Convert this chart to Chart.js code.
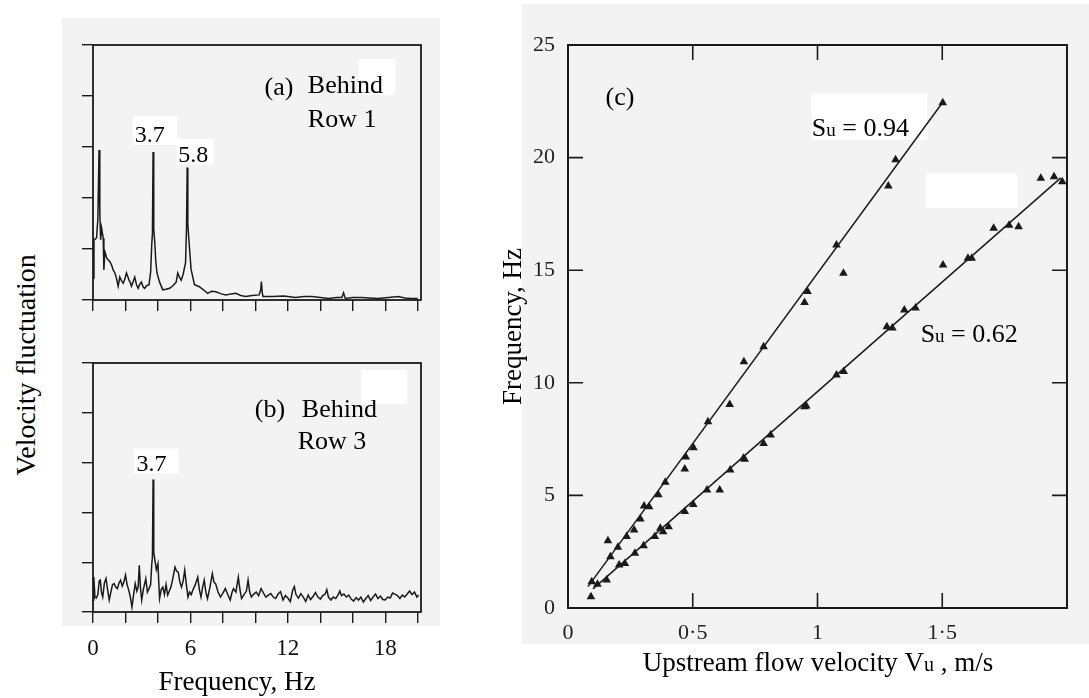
<!DOCTYPE html>
<html>
<head>
<meta charset="utf-8">
<script src="https://cdn.jsdelivr.net/npm/chart.js@4.4.1/dist/chart.umd.min.js"></script>
<style>
  body { margin: 0; background: #fff; width: 1089px; height: 698px; position: relative; overflow: hidden; font-family: "Liberation Serif", "Times New Roman", serif; }
  .scan { position: absolute; background: #f3f3f3; }
  canvas { position: absolute; }
  #velLabel { position: absolute; left: 26px; top: 365px; transform: translate(-50%, -50%) rotate(-90deg); font-size: 28px; white-space: nowrap; color: #000; }
</style>
</head>
<body>
<div class="scan" style="left:62px;top:18px;width:378px;height:608px"></div>
<div class="scan" style="left:522px;top:4px;width:567px;height:640px"></div>
<div id="velLabel">Velocity fluctuation</div>
<canvas id="rowOne" width="450" height="330" style="left:0;top:0"></canvas>
<canvas id="rowThree" width="450" height="368" style="left:0;top:330px"></canvas>
<canvas id="strouhal" width="609" height="698" style="left:480px;top:0"></canvas>
<script>
// ---- spectrum behind row 1 (Hz, relative amplitude) ----
const freqRow1 = [0, 0.06, 0.22, 0.3, 0.37, 0.42, 0.47, 0.53, 0.63, 0.67, 0.73, 0.85, 1.04, 1.15, 1.24, 1.35, 1.45, 1.55, 1.65, 1.75,
  1.86, 1.96, 2.06, 2.14, 2.22, 2.3, 2.37, 2.47, 2.57, 2.68, 2.78, 2.88, 2.98, 3.08, 3.18, 3.3, 3.45, 3.55, 3.62, 3.66,
  3.7, 3.74, 3.8, 3.87, 3.94, 4.1, 4.3, 4.5, 4.72, 4.92, 5.12, 5.22, 5.32, 5.43, 5.55, 5.7, 5.76, 5.8, 5.84, 5.9,
  6.04, 6.25, 6.55, 6.8, 7.06, 7.3, 7.57, 7.9, 8.19, 8.5, 8.8, 9.1, 9.41, 9.8, 10.23, 10.33, 10.37, 10.42, 10.47, 11.04,
  11.76, 12.47, 13.0, 13.49, 14.0, 14.51, 15.0, 15.33, 15.43, 15.54, 16.0, 16.55, 17.0, 17.57, 18.2, 18.8, 19.2, 19.6, 20.0];
const ampRow1 = [0.43, 1.18, 1.22, 1.6, 2.94, 1.7, 1.18, 1.41, 1.21, 0.59, 0.95, 0.82, 0.75, 0.68, 0.59, 0.53, 0.42, 0.27, 0.45, 0.38,
  0.33, 0.41, 0.53, 0.46, 0.39, 0.34, 0.27, 0.36, 0.45, 0.3, 0.23, 0.31, 0.35, 0.26, 0.23, 0.28, 0.3, 0.55, 1.1, 1.3,
  2.9, 1.4, 1.15, 0.75, 0.53, 0.35, 0.2, 0.21, 0.23, 0.28, 0.35, 0.53, 0.45, 0.39, 0.5, 0.73, 1.43, 2.6, 1.5, 1.2,
  0.6, 0.3, 0.26, 0.2, 0.13, 0.17, 0.16, 0.12, 0.1, 0.12, 0.13, 0.09, 0.07, 0.09, 0.1, 0.2, 0.36, 0.15, 0.07, 0.07,
  0.08, 0.05, 0.07, 0.07, 0.05, 0.03, 0.05, 0.05, 0.14, 0.03, 0.05, 0.05, 0.04, 0.03, 0.05, 0.07, 0.04, 0.03, 0.03];

// ---- spectrum behind row 3 ----
const freqRow3 = [0, 0.05, 0.12, 0.2, 0.3, 0.38, 0.45, 0.52, 0.6, 0.7, 0.8, 0.9, 1.0, 1.1, 1.2, 1.3, 1.4, 1.5, 1.6, 1.7,
  1.8, 1.9, 2.0, 2.1, 2.2, 2.3, 2.4, 2.5, 2.6, 2.7, 2.78, 2.85, 2.92, 3.0, 3.1, 3.25, 3.35, 3.45, 3.55, 3.62,
  3.66, 3.7, 3.74, 3.8, 3.9, 4.0, 4.05, 4.1, 4.2, 4.3, 4.4, 4.5, 4.6, 4.7, 4.8, 4.9, 5.05, 5.15, 5.25, 5.35,
  5.45, 5.55, 5.65, 5.75, 5.85, 5.95, 6.05, 6.15, 6.3, 6.45, 6.55, 6.65, 6.75, 6.85, 6.95, 7.05, 7.2, 7.35, 7.45, 7.55,
  7.7, 7.85, 8.0, 8.15, 8.3, 8.45, 8.55, 8.65, 8.8, 8.95, 9.05, 9.15, 9.3, 9.45, 9.55, 9.65, 9.75, 9.9, 10.05, 10.2,
  10.35, 10.5, 10.65, 10.8, 10.95, 11.1, 11.25, 11.4, 11.55, 11.7, 11.85, 12.0, 12.15, 12.3, 12.4, 12.5, 12.65, 12.8, 12.95, 13.1,
  13.25, 13.4, 13.55, 13.7, 13.85, 14.0, 14.15, 14.3, 14.4, 14.5, 14.65, 14.8, 14.95, 15.1, 15.2, 15.3, 15.45, 15.6, 15.75, 15.9,
  16.05, 16.2, 16.35, 16.5, 16.65, 16.8, 16.95, 17.1, 17.25, 17.4, 17.55, 17.7, 17.85, 18.0, 18.15, 18.3, 18.45, 18.6, 18.75, 18.9,
  19.05, 19.2, 19.35, 19.5, 19.65, 19.8, 19.95, 20.05];
const ampRow3 = [0.24, 0.7, 0.3, 0.28, 0.35, 0.62, 0.64, 0.4, 0.3, 0.58, 0.67, 0.45, 0.24, 0.4, 0.55, 0.57, 0.5, 0.47, 0.58, 0.64,
  0.52, 0.6, 0.74, 0.55, 0.44, 0.3, 0.1, 0.35, 0.57, 0.42, 0.5, 0.94, 0.5, 0.24, 0.45, 0.67, 0.4, 0.47, 0.55, 0.97,
  1.1, 2.66, 1.2, 1.07, 0.85, 0.97, 0.6, 0.27, 0.45, 0.5, 0.35, 0.55, 0.34, 0.42, 0.5, 0.65, 0.9, 0.82, 0.8, 0.6,
  0.5, 0.62, 0.84, 0.55, 0.3, 0.4, 0.35, 0.44, 0.55, 0.7, 0.45, 0.3, 0.5, 0.64, 0.4, 0.27, 0.5, 0.77, 0.6, 0.57,
  0.4, 0.3, 0.38, 0.47, 0.35, 0.24, 0.38, 0.47, 0.4, 0.7, 0.45, 0.27, 0.35, 0.42, 0.64, 0.4, 0.3, 0.36, 0.4, 0.33,
  0.47, 0.38, 0.3, 0.34, 0.37, 0.3, 0.27, 0.36, 0.41, 0.24, 0.33, 0.28, 0.21, 0.44, 0.51, 0.35, 0.28, 0.37, 0.3, 0.21,
  0.34, 0.25, 0.31, 0.39, 0.3, 0.26, 0.33, 0.36, 0.45, 0.3, 0.24, 0.3, 0.27, 0.35, 0.42, 0.33, 0.36, 0.3, 0.34, 0.26,
  0.22, 0.29, 0.24, 0.3, 0.2, 0.27, 0.33, 0.23, 0.3, 0.36, 0.27, 0.32, 0.25, 0.24, 0.3, 0.28, 0.38, 0.36, 0.33, 0.27,
  0.34, 0.3, 0.36, 0.42, 0.35, 0.4, 0.3, 0.34];

// ---- shedding frequency vs upstream velocity (m/s, Hz) ----
const velHigh = [0.095, 0.16, 0.17, 0.2, 0.235, 0.265, 0.29, 0.305, 0.325, 0.362, 0.39, 0.468, 0.472, 0.503, 0.561, 0.648,
  0.705, 0.784, 0.948, 0.96, 1.076, 1.104, 1.284, 1.313, 1.502];
const freqHigh = [1.17, 2.99, 2.28, 2.7, 3.17, 3.46, 3.95, 4.53, 4.5, 5.03, 5.58, 6.17, 6.7, 7.12, 8.27, 9.04,
  10.94, 11.6, 13.57, 14.05, 16.12, 14.86, 18.74, 19.9, 22.44];
const velLow = [0.092, 0.118, 0.155, 0.205, 0.228, 0.268, 0.303, 0.348, 0.37, 0.381, 0.403, 0.468, 0.502, 0.557, 0.608, 0.65,
  0.703, 0.708, 0.784, 0.812, 0.948, 0.955, 1.076, 1.105, 1.278, 1.3, 1.348, 1.393, 1.503, 1.603, 1.618, 1.706,
  1.768, 1.806, 1.895, 1.948, 1.981];
const freqLow = [0.5, 1.05, 1.24, 1.91, 1.98, 2.43, 2.76, 3.17, 3.54, 3.39, 3.61, 4.28, 4.6, 5.24, 5.24, 6.13,
  6.65, 6.6, 7.31, 7.68, 8.94, 8.97, 10.35, 10.5, 12.49, 12.43, 13.23, 13.32, 15.23, 15.53, 15.53, 16.86,
  17.0, 16.93, 19.08, 19.15, 18.93];
// straight fits through each group
const fitHighV = [0.08, 1.505];
const fitHighF = [0.95, 22.5];
const fitLowV = [0.1, 1.975];
const fitLowF = [0.85, 19.1];

const velTicks = { 0: '0', 0.5: '0·5', 1: '1', 1.5: '1·5' };

const INK = '#1a1a1a';
const SERIF = '"Liberation Serif", "Times New Roman", serif';

Chart.defaults.font.family = SERIF;
Chart.defaults.color = '#222';

const pairs = (xs, ys) => xs.map((x, i) => ({ x: x, y: ys[i] }));

// box around the plot area
const frame = (width) => ({
  id: 'frame',
  afterDatasetsDraw(chart) {
    const { ctx, chartArea: a } = chart;
    ctx.save();
    ctx.strokeStyle = INK;
    ctx.lineWidth = width;
    ctx.strokeRect(a.left, a.top, a.right - a.left, a.bottom - a.top);
    ctx.restore();
  }
});

// tick marks pointing into the plot, on all four sides
const inwardTicks = (len) => ({
  id: 'inwardTicks',
  afterDraw(chart) {
    const { ctx, chartArea: a, scales: { x, y } } = chart;
    ctx.save();
    ctx.strokeStyle = INK;
    ctx.lineWidth = 1.6;
    ctx.beginPath();
    x.ticks.forEach(t => {
      if (t.value <= x.min || t.value >= x.max) return;
      const px = x.getPixelForValue(t.value);
      ctx.moveTo(px, a.bottom); ctx.lineTo(px, a.bottom - len);
      ctx.moveTo(px, a.top); ctx.lineTo(px, a.top + len);
    });
    y.ticks.forEach(t => {
      if (t.value <= y.min || t.value >= y.max) return;
      const py = y.getPixelForValue(t.value);
      ctx.moveTo(a.left, py); ctx.lineTo(a.left + len, py);
      ctx.moveTo(a.right, py); ctx.lineTo(a.right - len, py);
    });
    ctx.stroke();
    ctx.restore();
  }
});

function drawRich(ctx, parts, x, y, align) {
  const widths = parts.map(p => { ctx.font = p[1] + 'px ' + SERIF; return ctx.measureText(p[0]).width; });
  const total = widths.reduce((s, w) => s + w, 0);
  let cx = align === 'left' ? x : x - total / 2;
  const base = y + parts[0][1] * 0.33;
  ctx.textAlign = 'left';
  ctx.textBaseline = 'alphabetic';
  parts.forEach((p, i) => {
    ctx.font = p[1] + 'px ' + SERIF;
    ctx.fillText(p[0], cx, base);
    cx += widths[i];
  });
}

// white patches and labels; positions in data units unless px is set
const notes = (boxes, texts) => ({
  id: 'notes',
  beforeDatasetsDraw(chart) {
    const { ctx, scales: { x, y } } = chart;
    ctx.save();
    ctx.fillStyle = '#ffffff';
    boxes.forEach(b => {
      const x0 = x.getPixelForValue(b[0]), x1 = x.getPixelForValue(b[1]);
      const y0 = y.getPixelForValue(b[2]), y1 = y.getPixelForValue(b[3]);
      ctx.fillRect(Math.min(x0, x1), Math.min(y0, y1), Math.abs(x1 - x0), Math.abs(y1 - y0));
    });
    ctx.restore();
  },
  afterDraw(chart) {
    const { ctx, scales: { x, y } } = chart;
    ctx.save();
    ctx.fillStyle = '#000';
    texts.forEach(t => {
      const px = t.px ? t.at[0] : x.getPixelForValue(t.at[0]);
      const py = t.px ? t.at[1] : y.getPixelForValue(t.at[1]);
      drawRich(ctx, t.parts, px, py, t.align);
    });
    ctx.restore();
  }
});

function spectrumOptions(padTop, axisHeight, labelFn) {
  return {
    responsive: false,
    animation: false,
    layout: { padding: { left: 53, top: padTop, right: 29, bottom: 0 } },
    plugins: { legend: { display: false }, tooltip: { enabled: false } },
    scales: {
      x: {
        type: 'linear', min: 0, max: 20.2,
        afterFit: s => { s.height = axisHeight; },
        border: { display: false },
        grid: { drawOnChartArea: false, drawTicks: true, tickLength: 11, color: INK, lineWidth: 1.4 },
        ticks: { stepSize: 2, includeBounds: false, autoSkip: false, maxRotation: 0, padding: 12,
          font: { size: 23 }, color: '#111', callback: labelFn }
      },
      y: {
        type: 'linear', min: 0, max: 5,
        afterFit: s => { s.width = 40; },
        border: { display: false },
        grid: { drawOnChartArea: false, drawTicks: true, tickLength: 11, color: INK, lineWidth: 1.4 },
        ticks: { stepSize: 1, callback: () => '' }
      }
    }
  };
}

const traceStyle = { borderColor: INK, borderWidth: 1.5, pointRadius: 0, tension: 0, fill: false };

new Chart(document.getElementById('rowOne'), {
  type: 'line',
  data: { datasets: [Object.assign({ data: pairs(freqRow1, ampRow1) }, traceStyle)] },
  options: spectrumOptions(45, 30, () => ''),
  plugins: [
    frame(1.8),
    notes(
      [[2.45, 5.2, 3.61, 3.04], [5.14, 7.41, 3.16, 2.65], [16.35, 18.62, 4.73, 4.02]],
      [
        { at: [11.45, 4.18], parts: [['(a)', 26]] },
        { at: [13.23, 4.22], parts: [['Behind', 26]], align: 'left' },
        { at: [13.23, 3.57], parts: [['Row 1', 26]], align: 'left' },
        { at: [3.49, 3.25], parts: [['3.7', 24]] },
        { at: [6.18, 2.86], parts: [['5.8', 24]] }
      ])
  ]
});

new Chart(document.getElementById('rowThree'), {
  type: 'line',
  data: { datasets: [Object.assign({ data: pairs(freqRow3, ampRow3) }, traceStyle)] },
  options: spectrumOptions(33, 86, v => (v % 6 === 0 ? String(v) : '')),
  plugins: [
    frame(1.8),
    notes(
      [[2.51, 5.27, 3.28, 2.78], [16.53, 19.35, 4.86, 4.18]],
      [
        { at: [10.9, 4.08], parts: [['(b)', 26]] },
        { at: [12.86, 4.08], parts: [['Behind', 26]], align: 'left' },
        { at: [12.61, 3.44], parts: [['Row 3', 26]], align: 'left' },
        { at: [3.61, 3.0], parts: [['3.7', 24]] },
        { at: [237, 351], px: true, parts: [['Frequency, Hz', 27]] }
      ])
  ]
});

const triangle = { pointStyle: 'triangle', pointRadius: 5, backgroundColor: INK, borderColor: INK, borderWidth: 0, showLine: false };
const fitLine = { borderColor: INK, borderWidth: 1.5, pointRadius: 0, showLine: true, fill: false };

new Chart(document.getElementById('strouhal'), {
  type: 'scatter',
  data: {
    datasets: [
      Object.assign({ data: pairs(fitHighV, fitHighF) }, fitLine),
      Object.assign({ data: pairs(fitLowV, fitLowF) }, fitLine),
      Object.assign({ data: pairs(velHigh, freqHigh) }, triangle),
      Object.assign({ data: pairs(velLow, freqLow) }, triangle)
    ]
  },
  options: {
    responsive: false,
    animation: false,
    layout: { padding: { left: 10, top: 45, right: 22, bottom: 0 } },
    plugins: { legend: { display: false }, tooltip: { enabled: false } },
    scales: {
      x: {
        type: 'linear', min: 0, max: 2,
        afterFit: s => { s.height = 90; },
        border: { display: false },
        grid: { display: false },
        ticks: { stepSize: 0.5, autoSkip: false, maxRotation: 0, padding: 4, font: { size: 22 }, color: '#222',
          callback: v => velTicks[v] ?? '' }
      },
      y: {
        type: 'linear', min: 0, max: 25,
        afterFit: s => { s.width = 78; },
        border: { display: false },
        grid: { display: false },
        ticks: { stepSize: 5, padding: 5, font: { size: 22 }, color: '#222' },
        title: { display: true, text: 'Frequency, Hz', color: '#000', font: { size: 27 }, padding: { top: 8, bottom: 0 } }
      }
    }
  },
  plugins: [
    frame(2),
    inwardTicks(15),
    notes(
      [[0.976, 1.44, 22.87, 20.78], [1.436, 1.8, 19.32, 17.76]],
      [
        { at: [0.208, 22.7], parts: [['(c)', 26]] },
        { at: [1.172, 21.36], parts: [['S', 26], ['u', 19], [' = 0.94', 26]] },
        { at: [1.608, 12.21], parts: [['S', 26], ['u', 19], [' = 0.62', 26]] },
        { at: [338, 662], px: true, parts: [['Upstream flow velocity V', 27], ['u', 20], [' , m/s', 27]] }
      ])
  ]
});
</script>
</body>
</html>
